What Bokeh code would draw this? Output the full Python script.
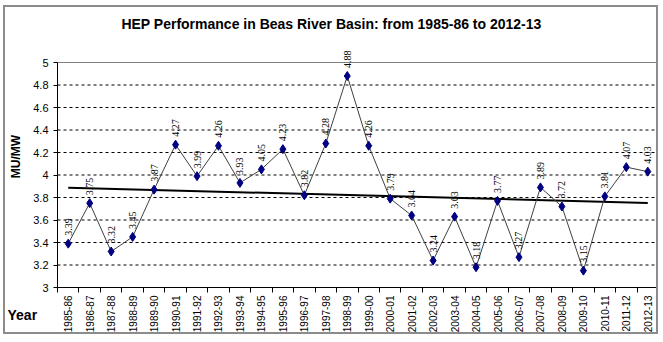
import numpy as np
from bokeh.plotting import figure
from bokeh.models import (FixedTicker, LabelSet, Label, ColumnDataSource, CustomJSTickFormatter,
                          LinearAxis, Range1d)
from bokeh.embed import file_html
from bokeh.resources import INLINE

years = ["1985-86", "1986-87", "1987-88", "1988-89", "1989-90", "1990-91", "1991-92",
         "1992-93", "1993-94", "1994-95", "1995-96", "1996-97", "1997-98", "1998-99",
         "1999-00", "2000-01", "2001-02", "2002-03", "2003-04", "2004-05", "2005-06",
         "2006-07", "2007-08", "2008-09", "2009-10", "2010-11", "2011-12", "2012-13"]
values = [3.39, 3.75, 3.32, 3.45, 3.87, 4.27, 3.99, 4.26, 3.93, 4.05, 4.23, 3.82, 4.28, 4.88,
          4.26, 3.79, 3.64, 3.24, 3.63, 3.18, 3.77, 3.27, 3.89, 3.72, 3.15, 3.81, 4.07, 4.03]
y_ticks = [3.0, 3.2, 3.4, 3.6, 3.8, 4.0, 4.2, 4.4, 4.6, 4.8, 5.0]

FONT = "Liberation Sans"

# ---- layout (canvas pixels) ----
W, H = 655, 329                  # canvas size inside the css border
PL, PR, PT, PB = 52, 653, 55, 280  # plot area edges within the canvas

n = len(years)
xs = list(range(1, n + 1))
x_lo, x_hi = 0.5, n + 0.5
y_lo, y_hi = y_ticks[0], y_ticks[-1]
xpx = (PR - PL) / (x_hi - x_lo)
ypx = (PB - PT) / (y_hi - y_lo)
x_start = x_lo - PL / xpx
x_end = x_hi + (W - PR) / xpx
y_start = y_lo - (H - PB) / ypx
y_end = y_hi + PT / ypx

p = figure(width=W, height=H, x_range=Range1d(x_start, x_end), y_range=Range1d(y_start, y_end),
           output_backend="svg", toolbar_location=None, title=None, min_border=0,
           styles={"border": "2px solid #8c8c8c", "margin-left": "3px", "margin-top": "5px"})
p.outline_line_color = None
p.background_fill_color = "white"
p.border_fill_color = "white"
p.xgrid.visible = False
p.ygrid.visible = False

# x axis (drawn at y = 3)
xa = p.xaxis[0]
xa.fixed_location = y_lo
xa.bounds = (x_lo, x_hi)
xa.ticker = FixedTicker(ticks=xs, minor_ticks=[x_lo + i for i in range(0, n + 1)])
xa.major_label_overrides = {i: years[i - 1] for i in xs}
xa.major_label_orientation = np.pi / 2
xa.major_tick_out = 0
xa.major_tick_in = 0
xa.minor_tick_out = 5
xa.minor_tick_in = 0
xa.minor_tick_line_color = "black"
xa.major_label_standoff = 3
xa.major_label_text_font = FONT
xa.major_label_text_font_size = "10px"
xa.major_label_text_color = "black"
xa.axis_line_color = "black"

# y axis (drawn at x = 0.5)
ya = p.yaxis[0]
ya.fixed_location = x_lo
ya.bounds = (y_lo, y_hi)
ya.ticker = FixedTicker(ticks=y_ticks)
ya.formatter = CustomJSTickFormatter(code="return String(Math.round(tick*10)/10)")
ya.major_tick_out = 4
ya.major_tick_in = 0
ya.minor_tick_line_color = None
ya.major_label_standoff = 5
ya.major_label_text_font = FONT
ya.major_label_text_font_size = "11px"
ya.major_label_text_color = "black"
ya.axis_line_color = "black"

# plot-area border on the top and right
for loc, fixed, bnds in (("right", x_hi, (y_lo, y_hi)), ("above", y_hi, (x_lo, x_hi))):
    ax = LinearAxis(fixed_location=fixed, bounds=bnds, ticker=FixedTicker(ticks=[]),
                    axis_line_color="#808080", major_tick_line_color=None,
                    minor_tick_line_color=None, major_label_text_font_size="0px")
    p.add_layout(ax, loc)

# dashed horizontal grid lines
inner = y_ticks[1:-1]
p.segment(x0=[x_lo] * len(inner), x1=[x_hi] * len(inner), y0=inner, y1=inner,
          line_color="black", line_width=1, line_dash="3 3")

# trend line (linear regression of the data)
coef = np.polyfit(xs, values, 1)
trend_x = [xs[0], xs[-1]]
trend_y = [coef[0] * xs[0] + coef[1], coef[0] * xs[-1] + coef[1]]
p.line(trend_x, trend_y, line_color="black", line_width=2)

src = ColumnDataSource(dict(x=xs, y=values, lab=[f"{v:.2f}" for v in values]))
p.line("x", "y", source=src, line_color="#404040", line_width=1)
p.scatter("x", "y", source=src, marker="diamond", size=9, fill_color="#000080", line_color="#000080")

labels = LabelSet(x="x", y="y", text="lab", source=src, angle=np.pi / 2, text_align="left",
                  text_baseline="middle", y_offset=8, text_font=FONT, text_font_size="10px",
                  text_color="black")
p.add_layout(labels)

# texts (screen units from the canvas' bottom-left corner)
p.add_layout(Label(x=326, y=H - 16, x_units="screen", y_units="screen",
                   text="HEP Performance in Beas River Basin: from 1985-86 to 2012-13",
                   text_align="center", text_baseline="middle", text_font=FONT,
                   text_font_size="14px", text_font_style="bold", text_color="black"))
p.add_layout(Label(x=10, y=H - 149, x_units="screen", y_units="screen", text="MU/MW",
                   angle=np.pi / 2, text_align="center", text_baseline="middle", text_font=FONT,
                   text_font_size="12px", text_font_style="bold", text_color="black"))
p.add_layout(Label(x=2, y=H - 307, x_units="screen", y_units="screen", text="Year",
                   text_align="left", text_baseline="middle", text_font=FONT,
                   text_font_size="14px", text_font_style="bold", text_color="black"))

open("out.html", "w").write(file_html(p, INLINE))
